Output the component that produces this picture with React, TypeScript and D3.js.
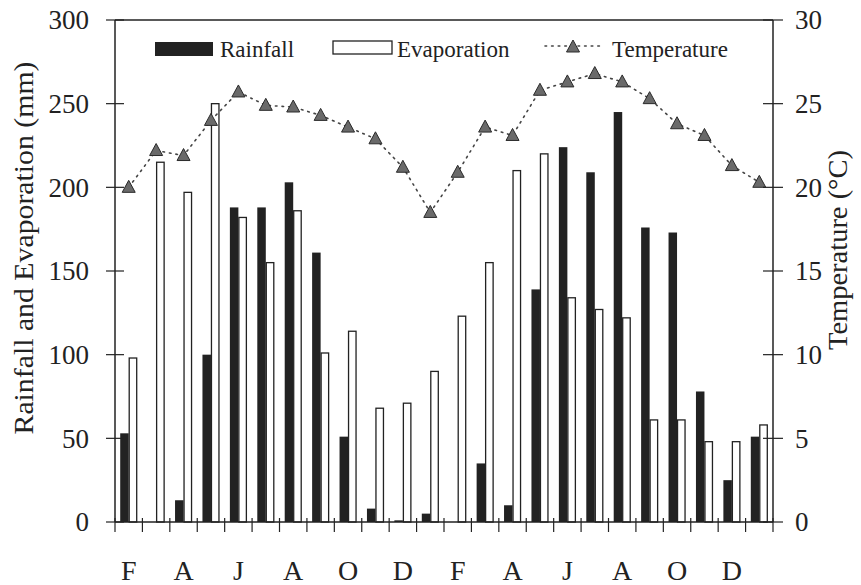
import React from 'react';
import * as d3 from 'd3';

// two years of monthly data, Feb .. Jan
const months = ['F', 'M', 'A', 'M', 'J', 'J', 'A', 'S', 'O', 'N', 'D', 'J',
    'F', 'M', 'A', 'M', 'J', 'J', 'A', 'S', 'O', 'N', 'D', 'J'];
const rainfall = [53, 0, 13, 100, 188, 188, 203, 161, 51, 8, 1, 5,
    0, 35, 10, 139, 224, 209, 245, 176, 173, 78, 25, 51];
const evaporation = [98, 215, 197, 250, 182, 155, 186, 101, 114, 68, 71, 90,
    123, 155, 210, 220, 134, 127, 122, 61, 61, 48, 48, 58];
const temperature = [20.0, 22.2, 21.9, 24.0, 25.7, 24.9, 24.8, 24.3, 23.6, 22.9, 21.2, 18.5,
    20.9, 23.6, 23.1, 25.8, 26.3, 26.8, 26.3, 25.3, 23.8, 23.1, 21.3, 20.3];
const leftTicks = [0, 50, 100, 150, 200, 250, 300];
const rightTicks = [0, 5, 10, 15, 20, 25, 30];

const FONT = '"Liberation Serif", "Times New Roman", serif';
const INK = '#222';

const Triangle = ({ cx, cy }: { cx: number; cy: number }) => (
    <path
        d={`M${cx},${cy - 7} L${cx + 6.5},${cy + 5} L${cx - 6.5},${cy + 5} Z`}
        fill="#6a6a6a"
        stroke="#2a2a2a"
        strokeWidth={1}
    />
);

export default function App() {
    const width = 861;
    const height = 585;
    const left = 115;
    const right = 773;
    const top = 20;
    const bottom = 522;

    const x = d3.scaleBand<number>()
        .domain(months.map((_, i) => i))
        .range([left, right])
        .padding(0);
    const y = d3.scaleLinear().domain([0, 300]).range([bottom, top]);
    const yT = d3.scaleLinear().domain([0, 30]).range([bottom, top]);

    const barW = 8.5;
    const center = (i: number) => (x(i) as number) + x.bandwidth() / 2;

    const line = d3.line<number>()
        .x((_, i) => center(i))
        .y(d => yT(d));

    return (
        <svg width={width} height={height}
            style={{ position: 'absolute', left: 0, top: 0, background: '#fff' }}
            fontFamily={FONT}>

            {/* bars */}
            {rainfall.map((v, i) => (
                <rect key={'r' + i} x={center(i) - barW} y={y(v)}
                    width={barW} height={bottom - y(v)} fill={INK} />
            ))}
            {evaporation.map((v, i) => (
                <rect key={'e' + i} x={center(i) + 0.5} y={y(v)}
                    width={barW - 1} height={bottom - y(v)}
                    fill="#fff" stroke={INK} strokeWidth={1.3} />
            ))}

            {/* temperature */}
            <path d={line(temperature) || ''} fill="none" stroke="#444"
                strokeWidth={1.6} strokeDasharray="1.6,5" strokeLinecap="round" />
            {temperature.map((v, i) => (
                <Triangle key={'t' + i} cx={center(i)} cy={yT(v)} />
            ))}

            {/* frame */}
            <line x1={left} x2={right} y1={top} y2={top} stroke={INK} strokeWidth={1.3} />
            <line x1={left} x2={right} y1={bottom} y2={bottom} stroke={INK} strokeWidth={1.5} />
            <line x1={left} x2={left} y1={top} y2={bottom} stroke={INK} strokeWidth={1.5} />
            <line x1={right} x2={right} y1={top} y2={bottom} stroke={INK} strokeWidth={1.5} />

            {/* left axis */}
            {leftTicks.map(t => (
                <g key={'l' + t}>
                    <line x1={left - 9} x2={left + 9} y1={y(t)} y2={y(t)} stroke={INK} strokeWidth={1.2} />
                    <text x={89} y={y(t)} dy="0.35em" textAnchor="end" fontSize={27} fill={INK}>{t}</text>
                </g>
            ))}

            {/* right axis */}
            {rightTicks.map(t => (
                <g key={'rt' + t}>
                    <line x1={right - 10} x2={right + 10} y1={yT(t)} y2={yT(t)} stroke={INK} strokeWidth={1.2} />
                    <text x={795} y={yT(t)} dy="0.35em" textAnchor="start" fontSize={27} fill={INK}>{t}</text>
                </g>
            ))}

            {/* bottom ticks and month labels */}
            {d3.range(months.length + 1).map(i => {
                const xx = left + i * x.bandwidth();
                return <line key={'b' + i} x1={xx} x2={xx} y1={bottom - 4} y2={bottom + 10}
                    stroke={INK} strokeWidth={1.2} />;
            })}
            {months.map((m, i) => i % 2 === 0 ? (
                <text key={'m' + i} x={center(i)} y={580} textAnchor="middle"
                    fontSize={28} fill={INK}>{m}</text>
            ) : null)}

            {/* axis titles */}
            <text transform="translate(33,248) rotate(-90)" textAnchor="middle"
                fontSize={27} fill={INK} textLength={373} lengthAdjust="spacingAndGlyphs">
                Rainfall and Evaporation (mm)
            </text>
            <text transform="translate(847,250) rotate(-90)" textAnchor="middle"
                fontSize={27} fill={INK} textLength={200} lengthAdjust="spacingAndGlyphs">
                Temperature (°C)
            </text>

            {/* legend */}
            <rect x={155} y={42} width={58} height={14} fill={INK} />
            <text x={220} y={57} fontSize={23} fill={INK}>Rainfall</text>
            <rect x={333} y={41} width={59} height={13} fill="#fff" stroke={INK} strokeWidth={1.3} />
            <text x={397} y={57} fontSize={23} fill={INK}>Evaporation</text>
            <line x1={545} x2={600} y1={46} y2={46} stroke="#444" strokeWidth={1.6}
                strokeDasharray="1.6,5" strokeLinecap="round" />
            <Triangle cx={573} cy={47} />
            <text x={612} y={57} fontSize={23} fill={INK}>Temperature</text>
        </svg>
    );
}
